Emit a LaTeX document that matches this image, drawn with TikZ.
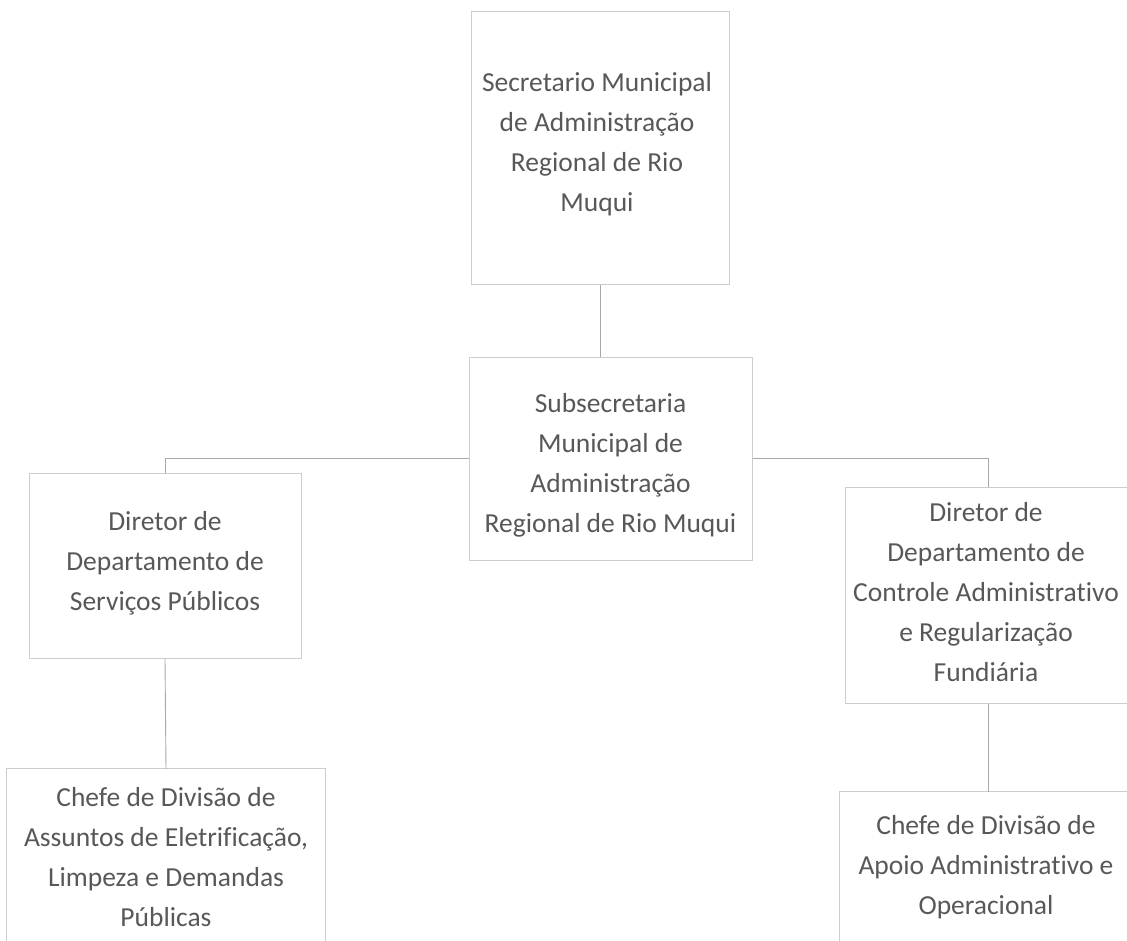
\documentclass[tikz,border=0pt]{standalone}
\usepackage{fontspec}
\setmainfont{Carlito}[Ligatures=NoCommon]
\definecolor{txt}{HTML}{585858}
\definecolor{edge}{HTML}{CDCDCD}
\definecolor{conn}{HTML}{A8A8A8}
\begin{document}
\begin{tikzpicture}[x=1pt,y=-1pt,
  box/.style={draw=edge,line width=1pt,inner sep=0pt,minimum width=#1},
  label/.style={align=center,text=txt,font=\fontsize{27.5}{40}\selectfont,inner sep=0pt},
  conn/.style={draw=conn,line width=0.9pt}]
\useasboundingbox[fill=white] (0,0) rectangle (1127,941);
% boxes
\node[box=258pt,minimum height=273pt] (sec) at (600,148.5) {};
\node[box=283pt,minimum height=203pt] (sub) at (610.5,458.5) {};
\node[box=272pt,minimum height=185pt] (ld) at (165,565.5) {};
\node[box=286pt,minimum height=216pt] (rd) at (988,595) {};
\node[inner sep=0pt,minimum width=318pt,minimum height=172pt] (lb) at (166,855) {};
\node[inner sep=0pt,minimum width=296pt,minimum height=149pt] (rb) at (988,866.5) {};
\draw[edge,line width=1pt] (lb.south west) -- (lb.north west) -- (lb.north east) -- (lb.south east);
\draw[edge,line width=1pt] (rb.south west) -- (rb.north west) -- (rb.north east) -- (rb.south east);
% texts
\node[label] (sect) at (597,144) {Secretario Municipal\\de Administração\\Regional de Rio\\Muqui};
\node[label] (subt) at (610.5,465) {Subsecretaria\\Municipal de\\Administração\\Regional de Rio Muqui};
\node[label] (ldt) at (165,563) {Diretor de\\Departamento de\\Serviços Públicos};
\node[label] (rdt) at (986,592) {Diretor de\\Departamento de\\Controle Administrativo\\e Regularização\\Fundiária};
\node[label] (lbt) at (166,857) {Chefe de Divisão de\\Assuntos de Eletrificação,\\Limpeza e Demandas\\Públicas};
\node[label] (rbt) at (986,867) {Chefe de Divisão de\\Apoio Administrativo e\\Operacional};
% connectors
\draw[conn] (sec.south) -- (sec.south |- sub.north);
\draw[conn] (sub.west) -| (ld.north);
\draw[conn] (sub.east) -| (rd.north);
\draw[conn] (ld.south) -- (lb.north);
\draw[conn] (rd.south) -- (rd.south |- rb.north);
\end{tikzpicture}
\end{document}
